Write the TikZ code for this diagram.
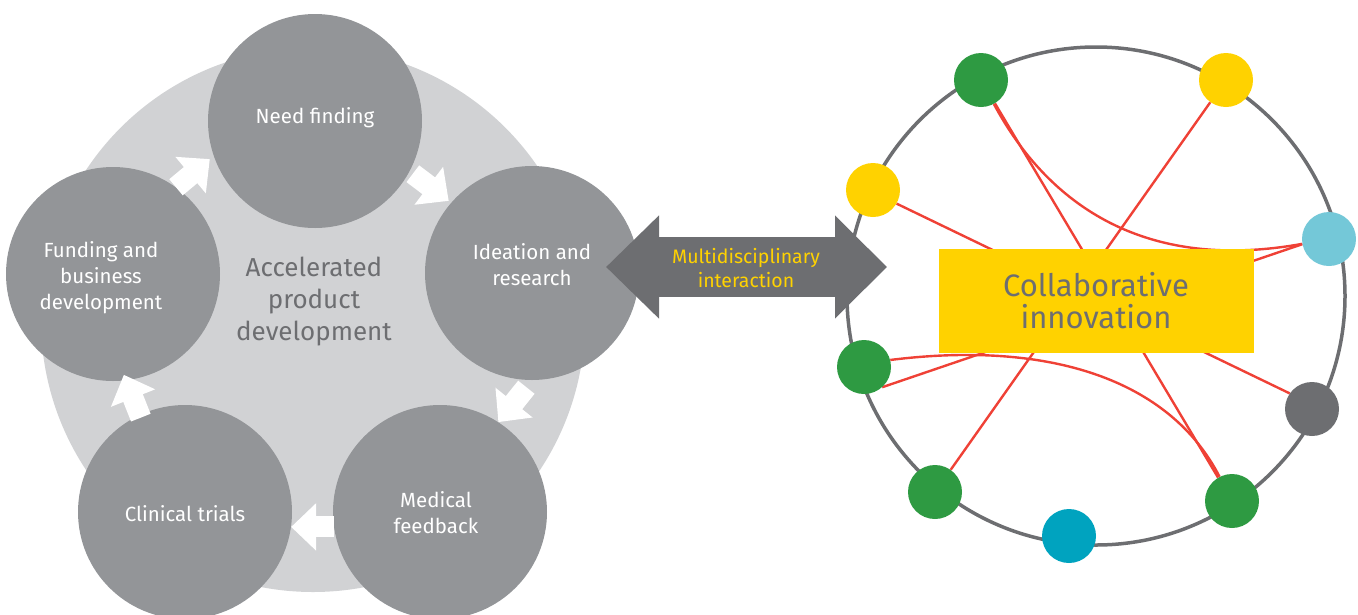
\documentclass[tikz,border=0pt]{standalone}
\usepackage{fontspec}
\setmainfont{Fira Sans}
\usetikzlibrary{arrows.meta,backgrounds}

\definecolor{paleGray}{HTML}{D1D2D4}
\definecolor{stageGray}{HTML}{939598}
\definecolor{darkGray}{HTML}{6D6E71}
\definecolor{eyYellow}{HTML}{FFD200}
\definecolor{dotGreen}{HTML}{2E9A42}
\definecolor{dotCyan}{HTML}{74C8D8}
\definecolor{dotTeal}{HTML}{00A3BF}
\definecolor{linkRed}{HTML}{EF4136}

\tikzset{
  stage/.style={circle, fill=stageGray, minimum size=214pt, inner sep=0pt},
  caption/.style={text=white, align=center, font=\fontsize{20.5}{26}\selectfont},
  flow/.style={white, line width=21pt, -{Triangle[length=25pt,width=46pt]}},
  member/.style={circle, minimum size=54pt, inner sep=0pt},
  link/.style={linkRed, line width=2.4pt},
  bridge/.style={darkGray, line width=60pt,
    {Triangle[length=53pt,width=100pt]}-{Triangle[length=52pt,width=100pt]}},
}

\begin{document}
\begin{tikzpicture}[x=1pt,y=-1pt]
\useasboundingbox (0,0) rectangle (1358,614);
\clip (0,0) rectangle (1358,614);
% product development cycle
\node[circle, fill=paleGray, minimum size=544pt, inner sep=0pt] (cycle) at (313,320) {};
\node[stage, label={[caption, yshift=3pt]center:Need finding}] (need) at (315,121) {};
\node[stage, label={[caption, yshift=8pt]center:{Ideation and\\research}}] (idea) at (532,273) {};
\node[stage, label={[caption, xshift=-4pt, yshift=-1pt]center:{Medical\\feedback}}] (medic) at (440,512) {};
\node[stage, label={[caption, yshift=-2pt]center:Clinical trials}] (clinic) at (185,512) {};
\node[stage, label={[caption, xshift=-12pt, yshift=-4pt]center:{Funding and\\business\\development}}] (fund) at (113,274) {};
\node[text=darkGray, align=center, font=\fontsize{26}{32}\selectfont] (core) at (314,302)
  {Accelerated\\product\\development};
\foreach \from/\to/\sa/\sb in {fund.54/need.199/0pt/5pt, need.-28/idea.139/4pt/3pt,
    idea.-90/medic.57/9pt/0pt, medic.188/clinic.-8/0pt/0pt, clinic.115/fund.-83/-3pt/-6pt}
  \draw[flow, shorten <=\sa, shorten >=\sb] (\from) -- (\to);
% innovation network
\node[circle, draw=darkGray, line width=3.5pt, minimum size=498pt, inner sep=0pt] (hub) at (1096,296) {};
\node[fill=eyYellow, minimum width=315pt, minimum height=104pt, inner sep=0pt,
  text=darkGray, align=center, font=\fontsize{31}{32}\selectfont] (collab) at (1096,301)
  {Collaborative\\innovation};
\node[member, fill=dotGreen] (gTop) at (981,80) {};
\node[member, fill=eyYellow] (yTop) at (1226,80) {};
\node[member, fill=eyYellow] (yLeft) at (873,190) {};
\node[member, fill=dotCyan] (cRight) at (1329,239) {};
\node[member, fill=dotGreen] (gLeft) at (864,367) {};
\node[member, fill=darkGray] (kRight) at (1312,409) {};
\node[member, fill=dotGreen] (gBotL) at (935,492) {};
\node[member, fill=dotTeal] (tBot) at (1069,536) {};
\node[member, fill=dotGreen] (gBotR) at (1232,501) {};
\begin{scope}[on background layer]
\draw[link] (gTop) -- (gBotR);
\draw[link] (yTop) -- (gBotL);
\draw[link] (yLeft.-30) -- (kRight.145);
\draw[link] (gLeft.-48) -- (cRight.191);
\draw[link] (gTop) .. controls (1040,190) and (1130,275) .. (cRight);
\draw[link] (gLeft.15) .. controls (1050,340) and (1170,380) .. (gBotR);
\end{scope}
% link between the two
\coordinate (bridgeL) at (606,267);
\coordinate (bridgeR) at (887,267);
\draw[bridge] (bridgeL) -- (bridgeR);
\node[text=eyYellow, align=center, font=\fontsize{19.5}{24}\selectfont] (multi) at (746,268)
  {Multidisciplinary\\interaction};
\end{tikzpicture}
\end{document}
